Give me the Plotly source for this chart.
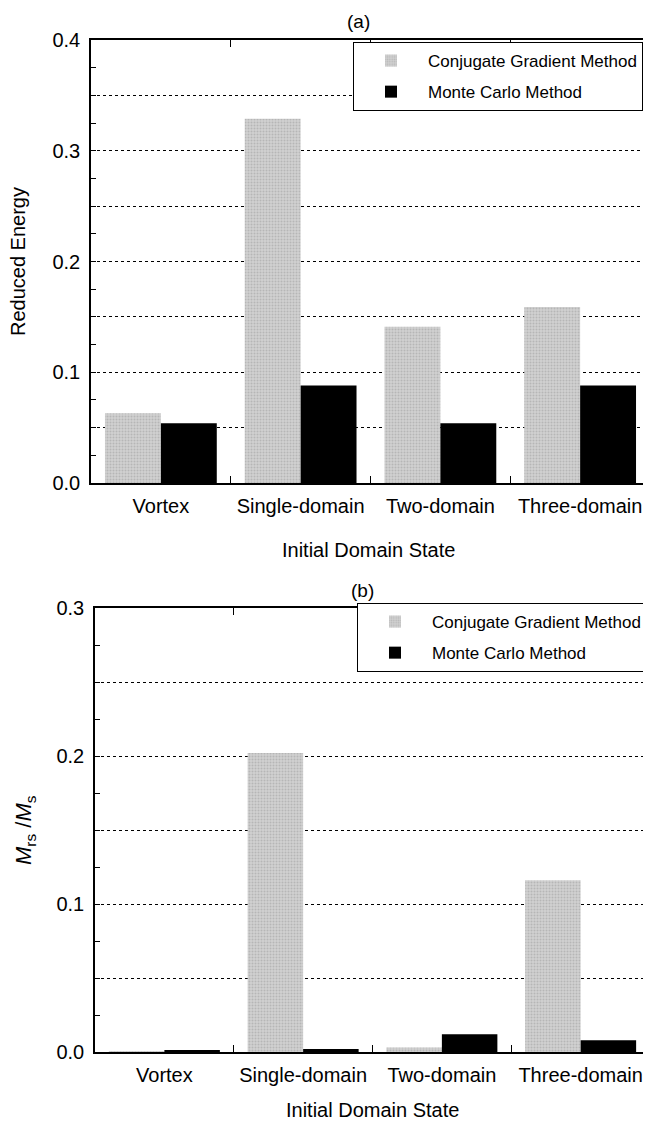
import plotly.graph_objects as go

categories = ["Vortex", "Single-domain", "Two-domain", "Three-domain"]
series_names = ["Conjugate Gradient Method", "Monte Carlo Method"]
energy_cg = [0.063, 0.329, 0.141, 0.159]
energy_mc = [0.054, 0.088, 0.054, 0.088]
mrs_cg = [0.0005, 0.202, 0.003, 0.116]
mrs_mc = [0.001, 0.002, 0.012, 0.008]

OFF = 8  # default html body margin
W, H = 651 - OFF, 1130 - OFF
FONT = "Liberation Sans, Arial, Helvetica, sans-serif"

def px_x(x):
    return (x - OFF) / W

def px_y(y):
    return 1 - (y - OFF) / H

fig = go.Figure()

cg_marker = dict(color="#cdcdcd", line=dict(width=0),
                 pattern=dict(shape=".", fgcolor="#9a9a9a", bgcolor="#d2d2d2", size=3, solidity=0.4))
mc_marker = dict(color="#000000", line=dict(width=0))

fig.add_trace(go.Bar(x=categories, y=energy_cg, name=series_names[0], marker=cg_marker,
                     xaxis="x", yaxis="y", legend="legend", legendgroup="a1"))
fig.add_trace(go.Bar(x=categories, y=energy_mc, name=series_names[1], marker=mc_marker,
                     xaxis="x", yaxis="y", legend="legend", legendgroup="a2"))
fig.add_trace(go.Bar(x=categories, y=mrs_cg, name=series_names[0], marker=cg_marker,
                     xaxis="x2", yaxis="y2", legend="legend2", legendgroup="b1"))
fig.add_trace(go.Bar(x=categories, y=mrs_mc, name=series_names[1], marker=mc_marker,
                     xaxis="x2", yaxis="y2", legend="legend2", legendgroup="b2"))

def xaxis(anchor, left, right):
    return dict(domain=[px_x(left), px_x(right)], anchor=anchor,
                showline=True, linecolor="black", linewidth=1.5, mirror="ticks",
                ticks="inside", ticklen=7, tickcolor="black", tickson="boundaries",
                showgrid=False, tickfont=dict(size=20, color="black", family=FONT),
                ticklabelstandoff=4, fixedrange=True)

def yvals(top):
    vals = [round(i * 0.05, 2) for i in range(int(round(top / 0.05)) + 1)]
    text = [f"{v:.1f}" if abs(v * 10 - round(v * 10)) < 1e-9 else "" for v in vals]
    return vals, text

def yaxis(anchor, dom, top):
    vals, text = yvals(top)
    return dict(domain=dom, anchor=anchor, range=[0, top],
                showline=True, linecolor="black", linewidth=1.5, mirror="ticks",
                ticks="inside", ticklen=5, tickcolor="black",
                tickvals=vals, ticktext=text,
                showgrid=True, gridcolor="black", gridwidth=1, griddash="dot",
                zeroline=False,
                minor=dict(dtick=0.025, ticks="inside", ticklen=5, tickcolor="black", showgrid=False),
                tickfont=dict(size=20, color="black", family=FONT),
                ticklabelstandoff=5, fixedrange=True)

legend_common = dict(xanchor="left", yanchor="top", bgcolor="white",
                     bordercolor="black", borderwidth=1,
                     font=dict(size=17, color="black", family=FONT),
                     itemwidth=64, traceorder="grouped")

fig.update_layout(
    width=W, height=H,
    margin=dict(l=0, r=0, t=0, b=0, autoexpand=False),
    paper_bgcolor="white", plot_bgcolor="white",
    font=dict(family=FONT, color="black"),
    barmode="group", bargap=0.2, bargroupgap=0.0,
    xaxis=xaxis("y", 91, 650),
    yaxis=yaxis("x", [px_y(483), px_y(40)], 0.4),
    xaxis2=xaxis("y2", 95, 650),
    yaxis2=yaxis("x2", [px_y(1052), px_y(608)], 0.3),
    legend=dict(x=px_x(353), y=px_y(42), tracegroupgap=6, **legend_common),
    legend2=dict(x=px_x(357), y=px_y(603), tracegroupgap=6, **legend_common),
    showlegend=True,
)

ann = [
    dict(text="(a)", x=px_x(358), y=px_y(22), font=dict(size=19)),
    dict(text="(b)", x=px_x(362), y=px_y(590), font=dict(size=19)),
    dict(text="Initial Domain State", x=px_x(368), y=px_y(550), font=dict(size=20)),
    dict(text="Initial Domain State", x=px_x(372), y=px_y(1110), font=dict(size=20)),
    dict(text="Reduced Energy", x=px_x(18), y=px_y(262), textangle=-90, font=dict(size=20)),
    dict(text="<i>M</i><sub>rs</sub> /<i>M</i><sub>s</sub>", x=px_x(25), y=px_y(830),
         textangle=-90, font=dict(size=22)),
]
for a in ann:
    a.update(xref="paper", yref="paper", showarrow=False, xanchor="center", yanchor="middle")
    a["font"].update(color="black", family=FONT)
fig.update_layout(annotations=ann)

fig.write_html("out.html")
